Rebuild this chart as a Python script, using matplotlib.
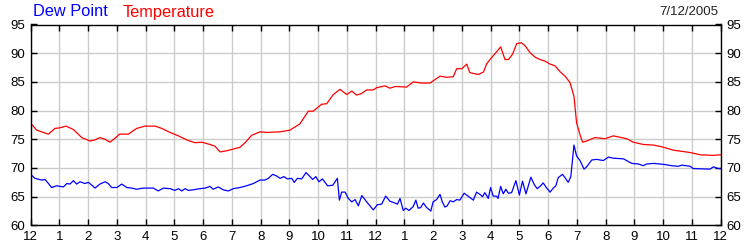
import matplotlib
matplotlib.use("Agg")
import matplotlib.pyplot as plt

plt.rcParams["font.family"] = ["Liberation Sans", "DejaVu Sans"]

# Temperature readings (hour of day, deg F)
temp_hours = [0, 0.21, 0.44, 0.62, 0.85, 1.02, 1.23, 1.49, 1.78, 2.07, 2.24, 2.41,
              2.59, 2.76, 2.94, 3.09, 3.4, 3.69, 3.98, 4.33, 4.56, 4.85, 5.14, 5.43,
              5.72, 5.95, 6.24, 6.41, 6.59, 6.82, 7.05, 7.28, 7.46, 7.69, 7.98, 8.21,
              8.68, 9.02, 9.37, 9.66, 9.83, 10.12, 10.3, 10.53, 10.76, 11.0, 11.17,
              11.34, 11.52, 11.69, 11.92, 12.04, 12.33, 12.5, 12.68, 13.08, 13.31,
              13.6, 13.89, 14.24, 14.47, 14.7, 14.82, 15.0, 15.17, 15.28, 15.57,
              15.75, 15.86, 15.98, 16.15, 16.35, 16.5, 16.62, 16.76, 16.91, 17.08,
              17.2, 17.37, 17.55, 17.72, 17.9, 18.07, 18.24, 18.41, 18.59, 18.76,
              18.9, 18.99, 19.11, 19.2, 19.34, 19.63, 19.98, 20.27, 20.74, 20.96,
              21.31, 21.66, 21.95, 22.36, 22.94, 23.29, 23.75, 24]
temperature = [77.8, 76.6, 76.2, 75.9, 76.9, 77.0, 77.3, 76.7, 75.3, 74.7, 74.9, 75.3,
               75.0, 74.5, 75.2, 75.9, 75.9, 76.9, 77.3, 77.3, 76.9, 76.2, 75.6, 74.9,
               74.4, 74.5, 74.1, 73.8, 72.8, 73.0, 73.3, 73.6, 74.4, 75.7, 76.3, 76.2,
               76.3, 76.6, 77.7, 79.9, 79.9, 81.1, 81.2, 82.8, 83.7, 82.8, 83.4,
               82.7, 83.0, 83.6, 83.6, 84.0, 84.3, 83.9, 84.2, 84.1, 85.0,
               84.8, 84.8, 86.0, 85.8, 85.9, 87.3, 87.3, 88.1, 86.6, 86.3,
               86.7, 88.1, 88.9, 89.9, 91.1, 88.9, 88.9, 89.8, 91.7, 91.8,
               91.3, 90.1, 89.3, 88.9, 88.6, 88.1, 87.8, 86.8, 86.0, 84.9,
               82.5, 77.9, 75.8, 74.5, 74.7, 75.3, 75.1, 75.6, 75.1, 74.5,
               74.1, 74.0, 73.7, 73.1, 72.7, 72.3, 72.2, 72.3]

# Dew point readings (hour of day, deg F)
dew_hours = [0, 0.15, 0.39, 0.5, 0.62, 0.73, 0.91, 1.14, 1.26, 1.37, 1.49, 1.6, 1.72,
             1.89, 2.01, 2.13, 2.24, 2.41, 2.59, 2.7, 2.82, 3.0, 3.17, 3.35, 3.52,
             3.69, 3.92, 4.27, 4.44, 4.62, 4.85, 5.02, 5.14, 5.26, 5.37, 5.49, 5.66,
             5.89, 6.07, 6.24, 6.35, 6.53, 6.7, 6.88, 7.05, 7.28, 7.51, 7.75, 7.98,
             8.15, 8.27, 8.42, 8.56, 8.68, 8.81, 8.93, 9.08, 9.17, 9.28, 9.43, 9.58,
             9.72, 9.81, 9.92, 10.03, 10.15, 10.33, 10.51, 10.67, 10.74, 10.82,
             10.94, 11.05, 11.17, 11.29, 11.4, 11.52, 11.69, 11.92, 12.06, 12.21,
             12.35, 12.5, 12.62, 12.76, 12.85, 12.96, 13.05, 13.16, 13.31, 13.4,
             13.48, 13.57, 13.66, 13.78, 13.92, 14.0, 14.12, 14.24, 14.32, 14.41,
             14.49, 14.59, 14.7, 14.82, 14.93, 15.08, 15.22, 15.4, 15.51, 15.63,
             15.72, 15.8, 15.92, 16.0, 16.09, 16.2, 16.26, 16.35, 16.44, 16.53,
             16.62, 16.73, 16.88, 17.0, 17.11, 17.23, 17.4, 17.52, 17.62, 17.72,
             17.83, 17.95, 18.07, 18.18, 18.27, 18.35, 18.5, 18.59, 18.7, 18.79,
             18.9, 18.99, 19.11, 19.25, 19.34, 19.52, 19.69, 19.92, 20.1, 20.27,
             20.62, 20.91, 21.14, 21.31, 21.43, 21.66, 21.89, 22.07, 22.3, 22.53,
             22.65, 22.94, 23.05, 23.63, 23.75, 23.92, 24]
dew_point = [68.9, 68.2, 67.9, 68.0, 67.3, 66.6, 66.9, 66.7, 67.3, 67.2, 67.8, 67.2, 67.6,
             67.3, 67.5, 67.0, 66.5, 67.2, 67.6, 67.3, 66.6, 66.6, 67.2, 66.6, 66.5,
             66.3, 66.5, 66.5, 66.0, 66.5, 66.4, 66.1, 66.4, 66.0, 66.4, 66.1, 66.2,
             66.4, 66.5, 66.8, 66.3, 66.7, 66.2, 66.0, 66.4, 66.6, 66.9, 67.3, 67.9,
             67.9, 68.2, 68.9, 68.6, 68.2, 68.5, 68.1, 68.2, 67.5, 68.2, 68.1, 69.2,
             68.5, 68.0, 68.5, 67.6, 68.1, 66.9, 67.0, 68.2, 64.4, 65.8,
             65.8, 64.7, 64.1, 64.5, 63.4, 65.2, 64.1, 62.7, 63.6, 63.7,
             65.1, 64.2, 64.0, 63.7, 64.7, 62.6, 63.0, 62.6, 63.3, 64.4,
             63.0, 63.1, 63.9, 63.1, 62.5, 64.1, 64.5, 65.4, 64.1, 63.2,
             63.4, 64.3, 64.1, 64.5, 64.4, 65.6, 65.1, 64.4, 65.8, 65.4,
             65.0, 65.7, 64.7, 66.6, 65.1, 65.1, 64.7, 66.8, 65.5, 66.3,
             65.6, 65.7, 67.8, 65.3, 67.7, 65.5, 68.4, 67.1, 66.4, 66.8,
             67.4, 66.5, 65.8, 66.5, 66.9, 68.3, 68.9, 68.3, 67.5, 68.5,
             74.0, 72.1, 71.3, 69.8, 70.2, 71.4, 71.5, 71.3, 71.9, 71.7,
             71.6, 70.8, 70.7, 70.4, 70.7, 70.8, 70.7, 70.6, 70.4, 70.3,
             70.5, 70.3, 69.9, 69.8, 70.2, 69.9, 69.9]

hour_labels = ["12", "1", "2", "3", "4", "5", "6", "7", "8", "9", "10", "11",
               "12", "1", "2", "3", "4", "5", "6", "7", "8", "9", "10", "11", "12"]
y_ticks = [60, 65, 70, 75, 80, 85, 90, 95]
date_text = "7/12/2005"

fig = plt.figure(figsize=(7.5, 2.5), dpi=100)
ax = fig.add_axes([0.0408, 0.0984, 0.92, 0.8036])

ax.plot(temp_hours, temperature, color="#ff0000", linewidth=0.9)
ax.plot(dew_hours, dew_point, color="#0000ff", linewidth=0.9)

ax.set_xlim(0, 24)
ax.set_ylim(60, 95)
ax.set_xticks(range(25))
ax.set_xticklabels(hour_labels)
ax.set_yticks(y_ticks)
ax.grid(True, color="#cccccc", linewidth=1)
ax.set_axisbelow(True)

ax.tick_params(direction="in", length=4, width=1, color="black",
               labelsize=9.5, top=True, right=True, labelright=True, pad=4)
for s in ax.spines.values():
    s.set_color("black")
    s.set_linewidth(1)

fig.text(0.044, 0.952, "Dew Point", color="#0000ff", fontsize=11.8, va="center")
fig.text(0.163, 0.952, "Temperature", color="#ff0000", fontsize=11.8, va="center")
fig.text(0.958, 0.952, date_text, color="#222222", fontsize=9.5, va="center", ha="right")

plt.savefig("out.png", dpi=100)
